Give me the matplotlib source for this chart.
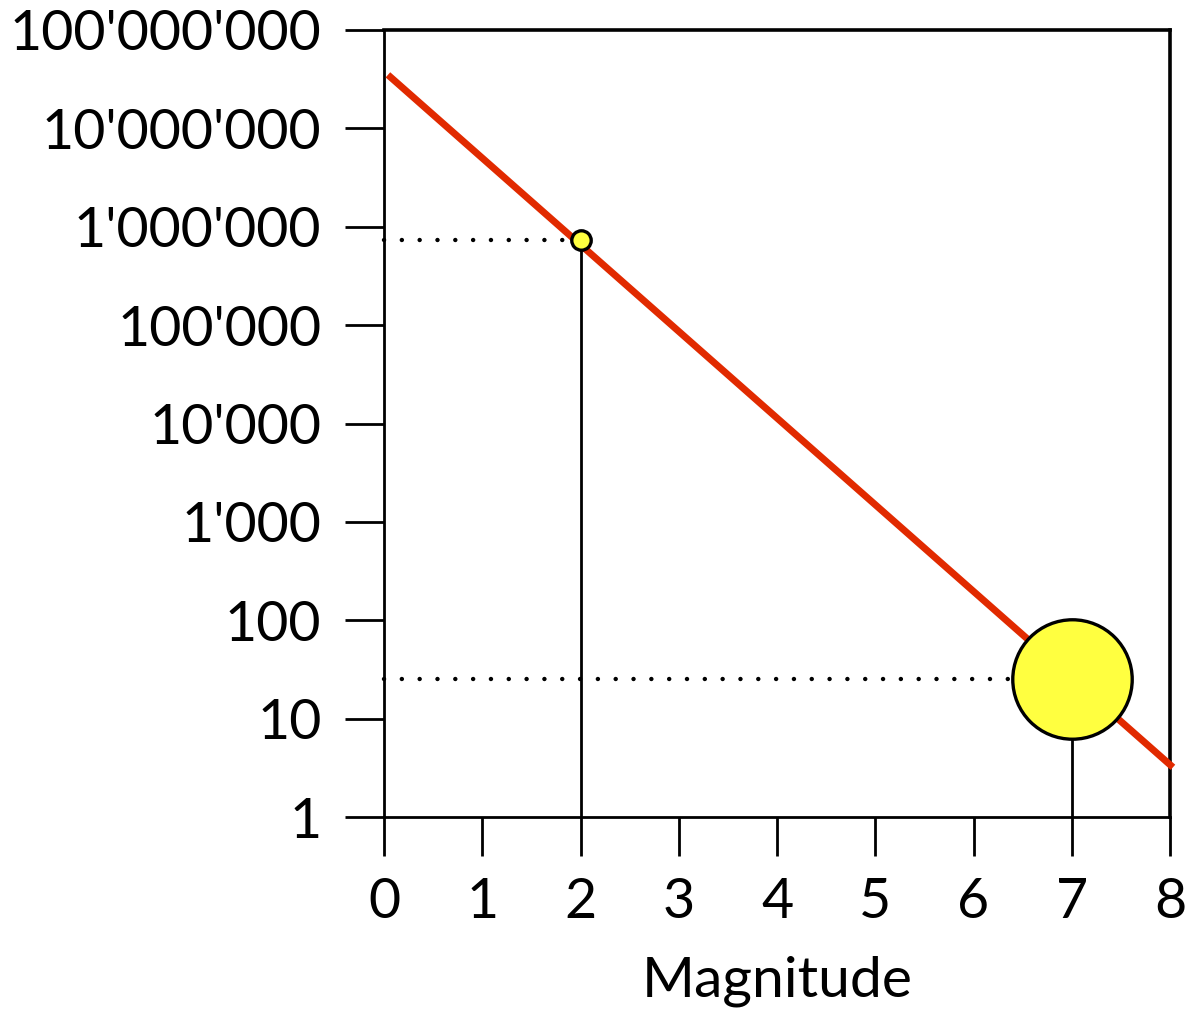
import numpy as np
import matplotlib
matplotlib.use('Agg')
import matplotlib.pyplot as plt
from matplotlib.ticker import FixedLocator, FuncFormatter, NullLocator

plt.rcParams['font.family'] = ['Lato', 'DejaVu Sans']

# Gutenberg-Richter style line: magnitude vs number of events
line_mag = [0.04, 8.03]
line_count = [3.5e7, 3.2]

# highlighted events
point_mag = [2, 7]
point_count = [7.3e5, 25]
point_size = [14, 86]

ytick_vals = [1, 10, 100, 1e3, 1e4, 1e5, 1e6, 1e7, 1e8]
ytick_labels = ['1', '10', '100', "1'000", "10'000", "100'000",
                "1'000'000", "10'000'000", "100'000'000"]
xtick_vals = [0, 1, 2, 3, 4, 5, 6, 7, 8]

fig = plt.figure(figsize=(11.9, 10.1), dpi=100)
ax = fig.add_axes([384 / 1190, 1 - 817 / 1010, (1170 - 384) / 1190, (817 - 30) / 1010])

ax.set_yscale('log')
ax.set_xlim(0, 8)
ax.set_ylim(1, 1e8)

# guide lines to the axes
for m, n in zip(point_mag, point_count):
    ax.plot([0, m], [n, n], color='black', lw=3.2, linestyle=(0, (0.01, 4.0)),
            dash_capstyle='round', zorder=2, clip_on=False)
    ax.plot([m, m], [1, n], color='black', lw=2.0, zorder=2)

ax.plot(line_mag, line_count, color='#e12a00', lw=5, solid_capstyle='butt',
        zorder=3, clip_on=False)

for m, n, s in zip(point_mag, point_count, point_size):
    ax.plot(m, n, 'o', ms=s, mfc='#ffff40', mec='black', mew=2.4, zorder=4, clip_on=False)

ax.yaxis.set_major_locator(FixedLocator(ytick_vals))
ax.yaxis.set_major_formatter(FuncFormatter(lambda v, p: ytick_labels[ytick_vals.index(v)] if v in ytick_vals else ''))
ax.yaxis.set_minor_locator(NullLocator())
ax.set_xticks(xtick_vals)
ax.set_xticklabels([str(x) for x in xtick_vals])

ax.tick_params(axis='both', direction='out', length=28, width=2.0, labelsize=40, pad=17)
ax.tick_params(axis='x', pad=15)

ax.spines['left'].set_linewidth(2.0)
ax.spines['bottom'].set_linewidth(2.0)
ax.spines['top'].set_linewidth(2.6)
ax.spines['right'].set_linewidth(2.6)

ax.set_xlabel('Magnitude', fontsize=41, labelpad=20)

fig.savefig('out.png', dpi=100)
